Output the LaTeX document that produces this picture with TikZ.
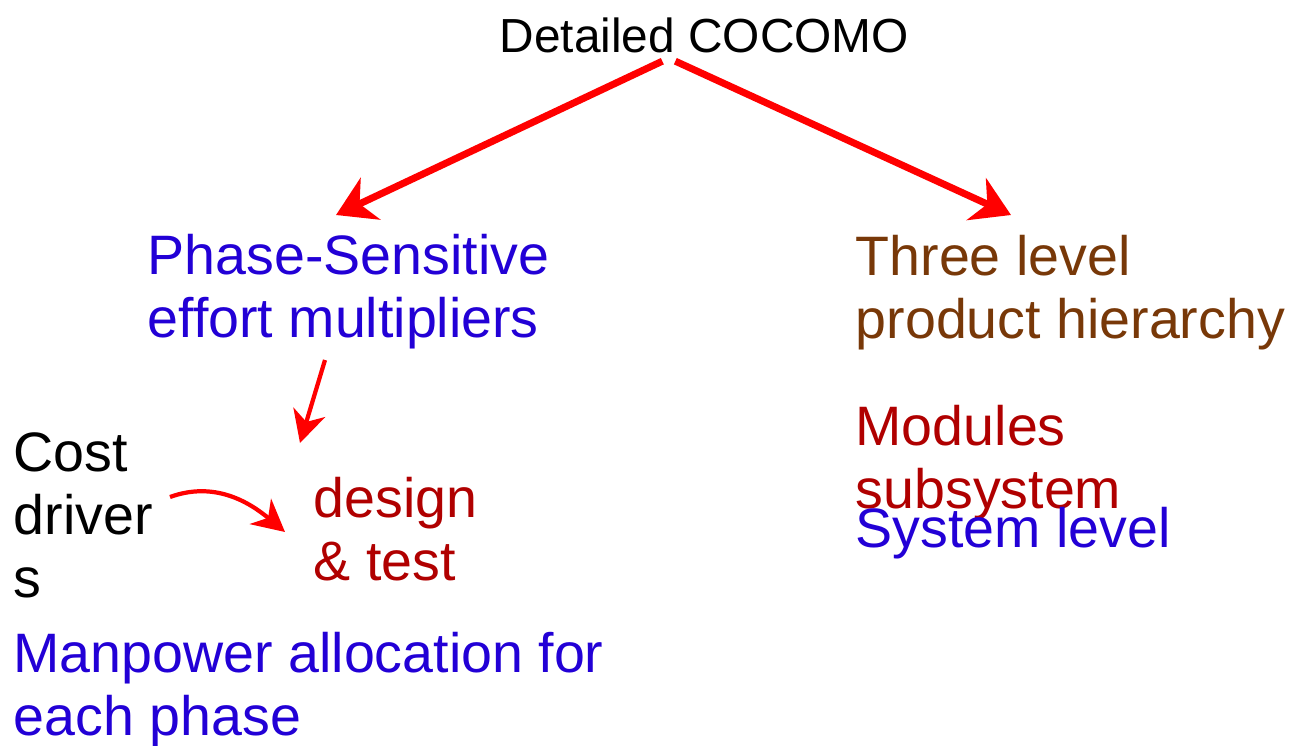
\documentclass[tikz,border=0pt]{standalone}
\usepackage{fontspec}
\setmainfont{Liberation Sans}
\usepackage{tikz}
\usetikzlibrary{arrows.meta}
\definecolor{linkred}{RGB}{255,0,0}
\definecolor{phaseblue}{RGB}{34,0,214}
\definecolor{levelbrown}{RGB}{120,56,8}
\definecolor{darkred}{RGB}{176,0,0}
\tikzset{
  label/.style={anchor=base west, inner sep=0pt, align=left,
    font=\fontsize{15.8pt}{17.8pt}\selectfont},
  bigarrow/.style={draw=linkred, line width=2pt,
    -{Stealth[length=3.8mm, width=4.6mm, inset=1.2mm]}},
  smallarrow/.style={draw=linkred, line width=1.2pt,
    -{Stealth[length=3.2mm, width=3.3mm, inset=1mm]}}
}

\begin{document}
\begin{tikzpicture}[x=0.01cm, y=-0.01cm]
\useasboundingbox (0,0) rectangle (1291,745);
\node[anchor=base west, inner sep=0pt, font=\fontsize{13.6pt}{16pt}\selectfont] (title) at (499,52) {Detailed COCOMO};
\node[label, text=phaseblue] (phase) at (147,337) {Phase-Sensitive\\effort multipliers};
\node[label, text=levelbrown] (three) at (855,338) {Three level\\product hierarchy};
\node[label] (cost) at (13,597) {Cost\\driver\\s};
\node[label, text=darkred] (design) at (313,580) {design\\\& test};
\node[label, text=phaseblue] (manpower) at (13,735) {Manpower allocation for\\each phase};
\node[label, text=darkred] (modules) at (855,508) {Modules\\subsystem};
\node[label, text=phaseblue] (system) at (855,547) {System level};
\coordinate (lefttip) at (336,215);
\coordinate (righttip) at (1011,215);
\coordinate (smallstart) at (325,360);
\coordinate (smalltip) at (300,443);
\coordinate (curvestart) at (170,497);
\coordinate (curvetip) at (285,532);
\draw[bigarrow] ([xshift=-0.42cm, yshift=-0.08cm]title.south) -- (lefttip);
\draw[bigarrow] ([xshift=-0.29cm, yshift=-0.08cm]title.south) -- (righttip);
\draw[smallarrow] (smallstart) -- (smalltip);
\draw[smallarrow] (curvestart) to[out=20, in=140] (curvetip);
\end{tikzpicture}
\end{document}
